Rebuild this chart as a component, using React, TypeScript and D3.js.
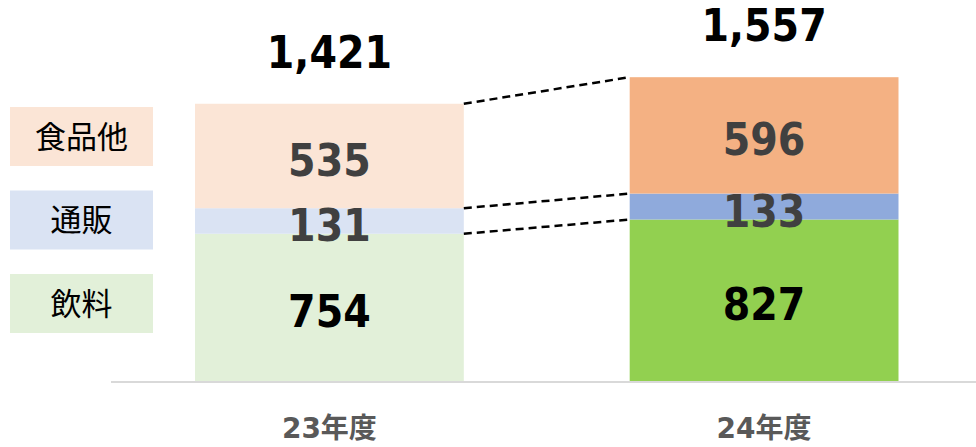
import React from "react";
import * as d3 from "d3";

const years = ["23年度", "24年度"];
const segments = ["飲料", "通販", "食品他"];
const drinks = [754, 827];
const mailOrder = [131, 133];
const foodOther = [535, 596];
const totals = [1421, 1557];
const legendOrder = ["食品他", "通販", "飲料"];

const palettes: Record<string, string[]> = {
  "飲料": ["#E2F0D9", "#92D050"],
  "通販": ["#DAE3F3", "#8FAADC"],
  "食品他": ["#FBE5D6", "#F4B183"],
};
const valueColors: Record<string, string> = {
  "飲料": "#000000",
  "通販": "#404040",
  "食品他": "#404040",
};

const W = 976;
const H = 447;
const numFont = "'DejaVu Sans', Verdana, sans-serif";
const jpFont = "'Noto Sans CJK JP', 'Noto Sans', sans-serif";
const labelFont = "'DejaVu Sans', 'Noto Sans CJK JP', sans-serif";

export default function App() {
  const x = d3
    .scaleBand<string>()
    .domain(years)
    .range([195, 898.5])
    .paddingInner(166 / 435)
    .paddingOuter(0);
  const y = d3.scaleLinear().domain([0, d3.max(totals) as number]).range([381, 77]);

  const rows = years.map((yr, i) => ({
    year: yr,
    "飲料": drinks[i],
    "通販": mailOrder[i],
    "食品他": foodOther[i],
  }));
  const stack = d3.stack<any>().keys(segments)(rows);

  const bw = x.bandwidth();
  const x0 = (x(years[0]) as number) + bw;
  const x1 = x(years[1]) as number;

  const legendTop = 107;
  const legendStep = 83.5;
  const legendH = 59;

  return (
    <svg
      width={W}
      height={H}
      style={{ position: "absolute", left: 0, top: 0, background: "#fff" }}
    >
      {/* axis line */}
      <line x1={111} x2={W} y1={382} y2={382} stroke="#D9D9D9" strokeWidth={2} />

      {/* bars */}
      {stack.map((layer) =>
        layer.map((d, i) => (
          <rect
            key={layer.key + i}
            x={x(years[i])}
            width={bw}
            y={y(d[1])}
            height={y(d[0]) - y(d[1])}
            fill={palettes[layer.key][i]}
          />
        ))
      )}

      {/* connectors */}
      {stack.map((layer) => (
        <line
          key={"c" + layer.key}
          x1={x0}
          x2={x1}
          y1={y(layer[0][1])}
          y2={y(layer[1][1])}
          stroke="#000"
          strokeWidth={2.5}
          strokeDasharray="8 5"
        />
      ))}

      {/* values */}
      {stack.map((layer) =>
        layer.map((d, i) => {
          const cx = (x(years[i]) as number) + bw / 2;
          const cy = (y(d[0]) + y(d[1])) / 2 + 20;
          return (
            <text
              key={"v" + layer.key + i}
              transform={`translate(${cx},${cy}) scale(0.9,1)`}
              textAnchor="middle"
              fontFamily={numFont}
              fontWeight="bold"
              fontSize={44}
              fill={valueColors[layer.key]}
            >
              {d3.format(",")(d[1] - d[0])}
            </text>
          );
        })
      )}

      {/* totals */}
      {totals.map((t, i) => {
        const cx = (x(years[i]) as number) + bw / 2;
        const cy = y(t) - 36;
        return (
          <text
            key={"t" + i}
            transform={`translate(${cx},${cy}) scale(0.9,1)`}
            textAnchor="middle"
            fontFamily={numFont}
            fontWeight="bold"
            fontSize={44}
            fill="#000"
          >
            {d3.format(",")(t)}
          </text>
        );
      })}

      {/* category labels */}
      {years.map((yr) => (
        <text
          key={yr}
          x={(x(yr) as number) + bw / 2}
          y={438}
          textAnchor="middle"
          fontFamily={labelFont}
          fontWeight="bold"
          fontSize={28}
          fill="#595959"
        >
          {yr}
        </text>
      ))}

      {/* legend */}
      {legendOrder.map((k, i) => {
        const top = legendTop + i * legendStep;
        return (
          <g key={"l" + k}>
            <rect x={10} y={top} width={143} height={legendH} fill={palettes[k][0]} />
            <text
              x={81.5}
              y={top + legendH / 2 + 11}
              textAnchor="middle"
              fontFamily={jpFont}
              fontSize={31}
              fill="#000"
            >
              {k}
            </text>
          </g>
        );
      })}
    </svg>
  );
}
